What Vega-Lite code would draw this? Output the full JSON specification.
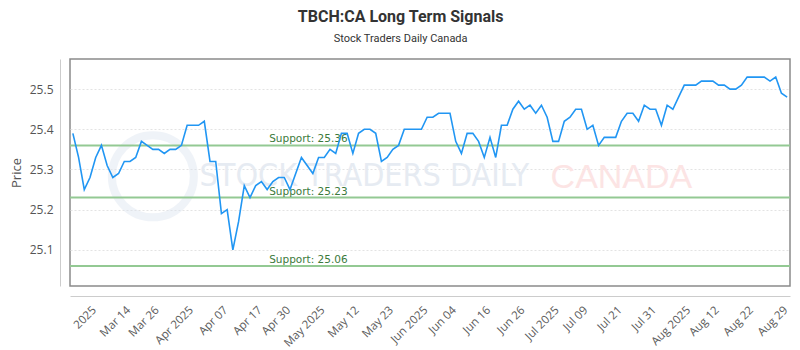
{
  "$schema": "https://vega.github.io/schema/vega-lite/v6.json",
  "width": 720,
  "height": 227,
  "autosize": {"type": "none"},
  "padding": {"left": 70, "top": 59, "right": 10, "bottom": 64},
  "background": "white",
  "title": {
    "text": "TBCH:CA Long Term Signals",
    "subtitle": "Stock Traders Daily Canada",
    "anchor": "middle",
    "frame": "bounds",
    "font": "Roboto",
    "fontSize": 16,
    "fontWeight": "bold",
    "color": "#333333",
    "subtitleFont": "Roboto",
    "subtitleFontSize": 11,
    "subtitleColor": "#333333",
    "subtitlePadding": 8,
    "offset": 15
  },
  "datasets": {
    "prices": [
      {"date": "2025-03-03", "price": 25.39}, {"date": "2025-03-04", "price": 25.33}, {"date": "2025-03-05", "price": 25.25},
      {"date": "2025-03-06", "price": 25.28}, {"date": "2025-03-07", "price": 25.33}, {"date": "2025-03-10", "price": 25.36},
      {"date": "2025-03-11", "price": 25.31}, {"date": "2025-03-12", "price": 25.28}, {"date": "2025-03-13", "price": 25.29},
      {"date": "2025-03-14", "price": 25.32}, {"date": "2025-03-17", "price": 25.32}, {"date": "2025-03-18", "price": 25.33},
      {"date": "2025-03-19", "price": 25.37}, {"date": "2025-03-20", "price": 25.36}, {"date": "2025-03-21", "price": 25.35},
      {"date": "2025-03-24", "price": 25.35}, {"date": "2025-03-25", "price": 25.34}, {"date": "2025-03-26", "price": 25.35},
      {"date": "2025-03-27", "price": 25.35}, {"date": "2025-03-28", "price": 25.36}, {"date": "2025-03-31", "price": 25.41},
      {"date": "2025-04-01", "price": 25.41}, {"date": "2025-04-02", "price": 25.41}, {"date": "2025-04-03", "price": 25.42},
      {"date": "2025-04-04", "price": 25.32}, {"date": "2025-04-07", "price": 25.32}, {"date": "2025-04-08", "price": 25.19},
      {"date": "2025-04-09", "price": 25.20}, {"date": "2025-04-10", "price": 25.10}, {"date": "2025-04-11", "price": 25.17},
      {"date": "2025-04-14", "price": 25.26}, {"date": "2025-04-15", "price": 25.23}, {"date": "2025-04-16", "price": 25.26},
      {"date": "2025-04-17", "price": 25.27}, {"date": "2025-04-21", "price": 25.25}, {"date": "2025-04-22", "price": 25.27},
      {"date": "2025-04-23", "price": 25.28}, {"date": "2025-04-24", "price": 25.28}, {"date": "2025-04-25", "price": 25.25},
      {"date": "2025-04-28", "price": 25.29}, {"date": "2025-04-29", "price": 25.33}, {"date": "2025-04-30", "price": 25.31},
      {"date": "2025-05-01", "price": 25.29}, {"date": "2025-05-02", "price": 25.33}, {"date": "2025-05-05", "price": 25.33},
      {"date": "2025-05-06", "price": 25.35}, {"date": "2025-05-07", "price": 25.34}, {"date": "2025-05-08", "price": 25.39},
      {"date": "2025-05-09", "price": 25.39}, {"date": "2025-05-12", "price": 25.34}, {"date": "2025-05-13", "price": 25.39},
      {"date": "2025-05-14", "price": 25.40}, {"date": "2025-05-15", "price": 25.40}, {"date": "2025-05-16", "price": 25.39},
      {"date": "2025-05-20", "price": 25.32}, {"date": "2025-05-21", "price": 25.33}, {"date": "2025-05-22", "price": 25.35},
      {"date": "2025-05-23", "price": 25.36}, {"date": "2025-05-26", "price": 25.40}, {"date": "2025-05-27", "price": 25.40},
      {"date": "2025-05-28", "price": 25.40}, {"date": "2025-05-29", "price": 25.40}, {"date": "2025-05-30", "price": 25.43},
      {"date": "2025-06-02", "price": 25.43}, {"date": "2025-06-03", "price": 25.44}, {"date": "2025-06-04", "price": 25.44},
      {"date": "2025-06-05", "price": 25.44}, {"date": "2025-06-06", "price": 25.37}, {"date": "2025-06-09", "price": 25.34},
      {"date": "2025-06-10", "price": 25.39}, {"date": "2025-06-11", "price": 25.39}, {"date": "2025-06-12", "price": 25.37},
      {"date": "2025-06-13", "price": 25.33}, {"date": "2025-06-16", "price": 25.38}, {"date": "2025-06-17", "price": 25.33},
      {"date": "2025-06-18", "price": 25.41}, {"date": "2025-06-19", "price": 25.41}, {"date": "2025-06-20", "price": 25.45},
      {"date": "2025-06-23", "price": 25.47}, {"date": "2025-06-24", "price": 25.45}, {"date": "2025-06-25", "price": 25.46},
      {"date": "2025-06-26", "price": 25.44}, {"date": "2025-06-27", "price": 25.46}, {"date": "2025-06-30", "price": 25.43},
      {"date": "2025-07-02", "price": 25.37}, {"date": "2025-07-03", "price": 25.37}, {"date": "2025-07-04", "price": 25.42},
      {"date": "2025-07-07", "price": 25.43}, {"date": "2025-07-08", "price": 25.45}, {"date": "2025-07-09", "price": 25.45},
      {"date": "2025-07-10", "price": 25.40}, {"date": "2025-07-11", "price": 25.41}, {"date": "2025-07-14", "price": 25.36},
      {"date": "2025-07-15", "price": 25.38}, {"date": "2025-07-16", "price": 25.38}, {"date": "2025-07-17", "price": 25.38},
      {"date": "2025-07-18", "price": 25.42}, {"date": "2025-07-21", "price": 25.44}, {"date": "2025-07-22", "price": 25.44},
      {"date": "2025-07-23", "price": 25.42}, {"date": "2025-07-24", "price": 25.46}, {"date": "2025-07-25", "price": 25.45},
      {"date": "2025-07-28", "price": 25.45}, {"date": "2025-07-29", "price": 25.41}, {"date": "2025-07-30", "price": 25.46},
      {"date": "2025-07-31", "price": 25.45}, {"date": "2025-08-01", "price": 25.48}, {"date": "2025-08-05", "price": 25.51},
      {"date": "2025-08-06", "price": 25.51}, {"date": "2025-08-07", "price": 25.51}, {"date": "2025-08-08", "price": 25.52},
      {"date": "2025-08-11", "price": 25.52}, {"date": "2025-08-12", "price": 25.52}, {"date": "2025-08-13", "price": 25.51},
      {"date": "2025-08-14", "price": 25.51}, {"date": "2025-08-15", "price": 25.50}, {"date": "2025-08-18", "price": 25.50},
      {"date": "2025-08-19", "price": 25.51}, {"date": "2025-08-20", "price": 25.53}, {"date": "2025-08-21", "price": 25.53},
      {"date": "2025-08-22", "price": 25.53}, {"date": "2025-08-25", "price": 25.53}, {"date": "2025-08-26", "price": 25.52},
      {"date": "2025-08-27", "price": 25.53}, {"date": "2025-08-28", "price": 25.49}, {"date": "2025-08-29", "price": 25.48}
    ],
    "supports": [
      {"level": 25.36, "label": "Support: 25.36"},
      {"level": 25.23, "label": "Support: 25.23"},
      {"level": 25.06, "label": "Support: 25.06"}
    ]
  },
  "layer": [
    {
      "data": {"name": "prices"},
      "mark": {"type": "line", "color": "#2196f3", "strokeWidth": 1.6, "opacity": 0},
      "encoding": {
        "x": {
          "field": "date",
          "type": "ordinal",
          "sort": "ascending",
          "scale": {"type": "point", "padding": 0.5},
          "axis": {
            "title": null,
            "values": ["2025-03-06", "2025-03-14", "2025-03-21", "2025-03-31", "2025-04-08", "2025-04-16", "2025-04-24", "2025-05-02", "2025-05-12", "2025-05-21", "2025-05-29", "2025-06-05", "2025-06-13", "2025-06-23", "2025-07-02", "2025-07-09", "2025-07-17", "2025-07-25", "2025-08-05", "2025-08-12", "2025-08-20", "2025-08-28"],
            "labelExpr": "{'2025-03-06':'2025','2025-03-14':'Mar 14','2025-03-21':'Mar 26','2025-03-31':'Apr 2025','2025-04-08':'Apr 07','2025-04-16':'Apr 17','2025-04-24':'Apr 30','2025-05-02':'May 2025','2025-05-12':'May 12','2025-05-21':'May 23','2025-05-29':'Jun 2025','2025-06-05':'Jun 04','2025-06-13':'Jun 16','2025-06-23':'Jun 26','2025-07-02':'Jul 2025','2025-07-09':'Jul 09','2025-07-17':'Jul 21','2025-07-25':'Jul 31','2025-08-05':'Aug 2025','2025-08-12':'Aug 12','2025-08-20':'Aug 22','2025-08-28':'Aug 29'}[datum.value]",
            "labelAngle": -45,
            "labelAlign": "right",
            "labelBaseline": "top",
            "labelPadding": 8,
            "labelOverlap": false,
            "labelBound": false,
            "labelFlush": false,
            "labelFont": "Open Sans",
            "labelFontSize": 11.5,
            "labelColor": "#5a5a5a",
            "ticks": false,
            "grid": false,
            "domainColor": "#cccccc",
            "domainWidth": 1,
            "offset": 10
          }
        },
        "y": {
          "field": "price",
          "type": "quantitative",
          "scale": {"domain": [25.01, 25.575], "nice": false, "zero": false},
          "axis": {
            "title": "Price",
            "values": [25.1, 25.2, 25.3, 25.4, 25.5],
            "format": ".1f",
            "offset": 10,
            "ticks": false,
            "labelPadding": 7,
            "labelFont": "Open Sans",
            "labelFontSize": 12,
            "labelColor": "#555555",
            "domainColor": "#cccccc",
            "grid": true,
            "gridColor": "#e3e3e3",
            "gridDash": [2, 2],
            "titleFont": "Open Sans",
            "titleFontSize": 13,
            "titleFontWeight": "normal",
            "titleColor": "#555555",
            "titlePadding": 6
          }
        }
      }
    },
    {
      "data": {"values": [{"mark": "logo"}]},
      "mark": {"type": "point", "shape": "circle", "filled": false, "stroke": "#dde5f0", "strokeWidth": 8, "opacity": 0.45, "size": 6724},
      "encoding": {
        "x": {"datum": "2025-03-21", "type": "ordinal"},
        "y": {"datum": 25.283, "type": "quantitative"}
      }
    },
    {
      "data": {"values": [{"text": "STOCK TRADERS DAILY"}]},
      "mark": {"type": "text", "font": "Liberation Sans Narrow, DejaVu Sans Condensed, sans-serif", "fontSize": 32, "color": "#e6ebf2", "align": "center", "baseline": "middle"},
      "encoding": {
        "x": {"datum": "2025-05-14", "type": "ordinal"},
        "y": {"datum": 25.285, "type": "quantitative"},
        "text": {"field": "text"}
      }
    },
    {
      "data": {"values": [{"text": "CANADA"}]},
      "mark": {"type": "text", "font": "Liberation Sans", "fontSize": 34, "color": "#fce4e4", "align": "center", "baseline": "middle"},
      "encoding": {
        "x": {"datum": "2025-07-18", "type": "ordinal"},
        "y": {"datum": 25.279, "type": "quantitative"},
        "text": {"field": "text"}
      }
    },
    {
      "data": {"name": "supports"},
      "mark": {"type": "rule", "color": "#93c993", "strokeWidth": 2},
      "encoding": {
        "y": {"field": "level", "type": "quantitative"}
      }
    },
    {
      "data": {"name": "supports"},
      "mark": {"type": "text", "font": "DejaVu Sans", "fontSize": 10.5, "color": "#3b7a3b", "align": "left", "baseline": "alphabetic", "dx": 2, "dy": -3},
      "encoding": {
        "x": {"datum": "2025-04-21", "type": "ordinal"},
        "y": {"field": "level", "type": "quantitative"},
        "text": {"field": "label"}
      }
    },
    {
      "data": {"name": "prices"},
      "mark": {"type": "line", "color": "#2196f3", "strokeWidth": 1.6},
      "encoding": {
        "x": {"field": "date", "type": "ordinal", "sort": "ascending"},
        "y": {"field": "price", "type": "quantitative"}
      }
    }
  ],
  "config": {
    "view": {"stroke": "#8a8a8a", "strokeWidth": 1.5}
  }
}
